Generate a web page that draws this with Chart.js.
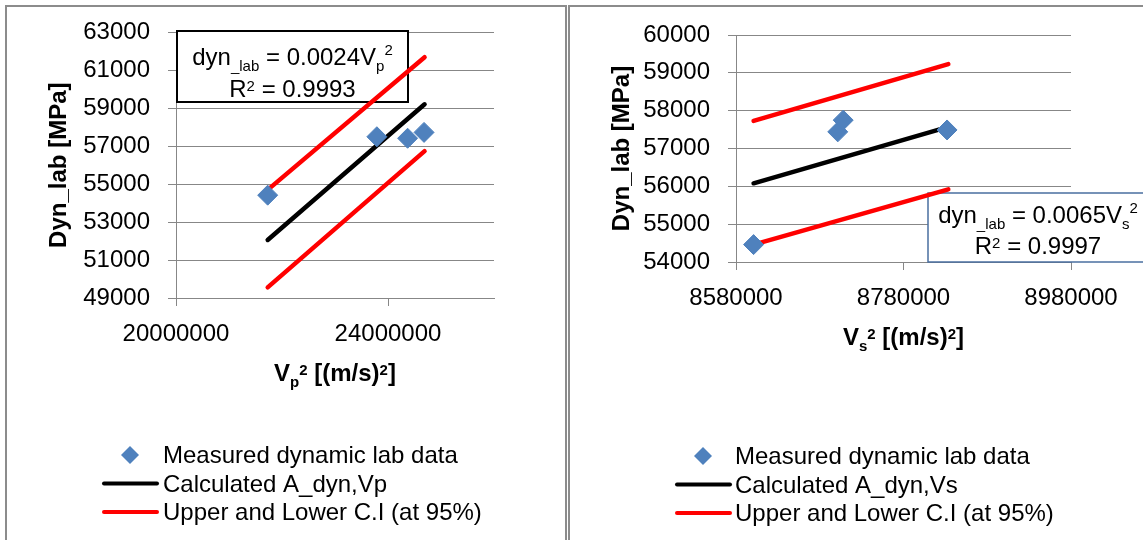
<!DOCTYPE html>
<html>
<head>
<meta charset="utf-8">
<script src="https://cdn.jsdelivr.net/npm/chart.js@4/dist/chart.umd.min.js"></script>
<style>
  html, body { margin: 0; padding: 0; background: #fff; width: 1143px; height: 540px; overflow: hidden; }
  .panel { position: absolute; top: 5px; height: 600px; border: 2px solid #8c8c8c; box-sizing: border-box; }
  canvas { position: absolute; top: 0; }
</style>
</head>
<body>
<div class="panel" style="left:5px;width:562px"></div>
<div class="panel" style="left:568px;width:600px"></div>
<canvas id="leftChart" width="567" height="540" style="left:0"></canvas>
<canvas id="rightChart" width="576" height="540" style="left:567px"></canvas>
<script>
const FONT = '"Liberation Sans", Arial, sans-serif';
const GRID = '#878787';
const BLUE = '#4F81BD';

// Vp chart
const leftMeasuredX = [21730000, 23790000, 24370000, 24680000];
const leftMeasuredY = [54420, 57500, 57420, 57730];
const leftLineX = [21730000, 24690000];
const leftCalcY = [52060, 59210];
const leftUpperY = [54700, 61690];
const leftLowerY = [49560, 56740];
const leftXTicks = [20000000, 24000000];
const leftYTicks = [49000, 51000, 53000, 55000, 57000, 59000, 61000, 63000];

// Vs chart
const rightMeasuredX = [8601000, 8701500, 8708000, 8832000];
const rightMeasuredY = [54460, 57440, 57750, 57490];
const rightLineX = [8601000, 8833500];
const rightCalcY = [56080, 57570];
const rightUpperY = [57730, 59230];
const rightLowerY = [54460, 55920];
const rightXTicks = [8580000, 8780000, 8980000];
const rightYTicks = [54000, 55000, 56000, 57000, 58000, 59000, 60000];

const seriesLabels = ['Measured dynamic lab data', 'Calculated A_dyn,Vp', 'Upper and Lower C.I (at 95%)'];
const seriesLabelsVs = ['Measured dynamic lab data', 'Calculated A_dyn,Vs', 'Upper and Lower C.I (at 95%)'];

function pts(xs, ys) {
  return xs.map((x, i) => ({ x: x, y: ys[i] }));
}

// parts: sub = subscript, sup = raised superscript, sq = "squared" sign level with cap height
function drawRich(ctx, parts, cx, y, size, weight) {
  const small = p => p.sub || p.sup || p.sq;
  const fontFor = p => `${weight} ${small(p) ? Math.round(size * 0.62) : size}px ${FONT}`;
  let w = 0;
  parts.forEach(p => { ctx.font = fontFor(p); w += ctx.measureText(p.t).width; });
  let x = cx - w / 2;
  ctx.textAlign = 'left';
  ctx.textBaseline = 'alphabetic';
  ctx.fillStyle = '#000';
  parts.forEach(p => {
    ctx.font = fontFor(p);
    let dy = 0;
    if (p.sub) dy = size * 0.25;
    if (p.sup) dy = -size * 0.4;
    if (p.sq) dy = -size * 0.27;
    ctx.fillText(p.t, x, y + dy);
    x += ctx.measureText(p.t).width;
  });
}

function makeDatasets(mx, my, lx, calc, up, low, labels) {
  const line = (data, color, label) => ({
    label: label,
    data: data,
    showLine: true,
    borderColor: color,
    backgroundColor: color,
    borderWidth: 4.5,
    borderCapStyle: 'round',
    pointRadius: 0
  });
  return [
    {
      label: labels[0],
      data: pts(mx, my),
      pointStyle: 'rectRot',
      pointRadius: 10,
      backgroundColor: BLUE,
      borderColor: BLUE,
      borderWidth: 1
    },
    line(pts(lx, calc), '#000000', labels[1]),
    line(pts(lx, up), '#ff0000', labels[2]),
    line(pts(lx, low), '#ff0000', labels[2])
  ];
}

function makeOptions(cfg) {
  return {
    responsive: false,
    animation: false,
    layout: { padding: cfg.padding },
    plugins: { legend: { display: false }, tooltip: { enabled: false } },
    scales: {
      x: {
        type: 'linear',
        min: cfg.xMin,
        max: cfg.xMax,
        afterBuildTicks: s => { s.ticks = cfg.xTicks.map(v => ({ value: v })); },
        afterFit: s => { s.height = 60; },
        grid: { drawOnChartArea: false, drawTicks: true, tickLength: 8, color: GRID },
        border: { color: GRID, width: 1 },
        ticks: { color: '#000', font: { family: FONT, size: 24 }, padding: 14, maxRotation: 0, autoSkip: false, callback: v => String(v) }
      },
      y: {
        type: 'linear',
        min: cfg.yTicks[0],
        max: cfg.yTicks[cfg.yTicks.length - 1],
        afterBuildTicks: s => { s.ticks = cfg.yTicks.map(v => ({ value: v })); },
        afterFit: s => { s.width = cfg.yWidth; },
        grid: { drawTicks: true, tickLength: 8, color: GRID },
        border: { color: GRID, width: 1 },
        ticks: { color: '#000', font: { family: FONT, size: 24 }, padding: 18, autoSkip: false, callback: v => String(v) }
      }
    }
  };
}

// equation box, axis titles and legend
function decorPlugin(cfg) {
  return {
    id: 'decor',
    beforeDatasetsDraw(chart) {
      const ctx = chart.ctx;
      const b = cfg.box;
      ctx.save();
      ctx.fillStyle = '#fff';
      ctx.fillRect(b.x, b.y, b.w, b.h);
      ctx.strokeStyle = b.color;
      ctx.lineWidth = b.lw;
      ctx.strokeRect(b.x, b.y, b.w, b.h);
      drawRich(ctx, cfg.eq1, b.x + b.w / 2, b.y1, 24, 'normal');
      drawRich(ctx, cfg.eq2, b.x + b.w / 2, b.y2, 24, 'normal');
      ctx.restore();
    },
    afterDraw(chart) {
      const ctx = chart.ctx;
      const a = chart.chartArea;
      ctx.save();
      drawRich(ctx, cfg.xTitle, (a.left + a.right) / 2, cfg.xTitleY, 24, 'bold');
      ctx.translate(cfg.yTitleX, (a.top + a.bottom) / 2);
      ctx.rotate(-Math.PI / 2);
      drawRich(ctx, [{ t: 'Dyn_lab [MPa]' }], 0, 0, 24, 'bold');
      ctx.restore();

      // legend
      const L = cfg.legend;
      const ds = chart.data.datasets;
      ctx.save();
      ctx.fillStyle = ds[0].backgroundColor;
      ctx.beginPath();
      ctx.moveTo(L.mx, L.y0 - 9);
      ctx.lineTo(L.mx + 9, L.y0);
      ctx.lineTo(L.mx, L.y0 + 9);
      ctx.lineTo(L.mx - 9, L.y0);
      ctx.closePath();
      ctx.fill();
      ctx.lineCap = 'round';
      ctx.lineWidth = 4;
      [1, 2].forEach((k, i) => {
        const yy = L.y0 + 28.5 * (i + 1);
        ctx.strokeStyle = ds[k].borderColor;
        ctx.beginPath();
        ctx.moveTo(L.lx0, yy);
        ctx.lineTo(L.lx1, yy);
        ctx.stroke();
      });
      ctx.font = `24px ${FONT}`;
      ctx.fillStyle = '#000';
      ctx.textAlign = 'left';
      ctx.textBaseline = 'alphabetic';
      [0, 1, 2].forEach(k => {
        ctx.fillText(ds[k].label, L.tx, L.y0 + 8 + 28.5 * k);
      });
      ctx.restore();
    }
  };
}

new Chart(document.getElementById('leftChart'), {
  type: 'scatter',
  data: { datasets: makeDatasets(leftMeasuredX, leftMeasuredY, leftLineX, leftCalcY, leftUpperY, leftLowerY, seriesLabels) },
  options: makeOptions({
    padding: { left: 0, top: 29, right: 73, bottom: 182 },
    xMin: 20000000, xMax: 26000000, xTicks: leftXTicks, yTicks: leftYTicks, yWidth: 176
  }),
  plugins: [decorPlugin({
    box: { x: 177, y: 31, w: 231, h: 71, color: '#000', lw: 2, y1: 65, y2: 97 },
    eq1: [{ t: 'dyn' }, { t: '_lab', sub: true }, { t: ' = 0.0024V' }, { t: 'p', sub: true }, { t: '2', sup: true }],
    eq2: [{ t: 'R' }, { t: '2', sq: true }, { t: ' = 0.9993' }],
    xTitle: [{ t: 'V' }, { t: 'p', sub: true }, { t: '2', sq: true }, { t: ' [(m/s)' }, { t: '2', sq: true }, { t: ']' }],
    xTitleY: 381,
    yTitleX: 66,
    legend: { mx: 130, y0: 455, lx0: 104, lx1: 157, tx: 163 }
  })]
});

new Chart(document.getElementById('rightChart'), {
  type: 'scatter',
  data: { datasets: makeDatasets(rightMeasuredX, rightMeasuredY, rightLineX, rightCalcY, rightUpperY, rightLowerY, seriesLabelsVs) },
  options: makeOptions({
    padding: { left: 0, top: 35, right: 72, bottom: 218 },
    xMin: 8580000, xMax: 8980000, xTicks: rightXTicks, yTicks: rightYTicks, yWidth: 169
  }),
  plugins: [decorPlugin({
    box: { x: 361, y: 193, w: 220, h: 69, color: '#4a6fa0', lw: 1.5, y1: 223, y2: 254 },
    eq1: [{ t: 'dyn' }, { t: '_lab', sub: true }, { t: ' = 0.0065V' }, { t: 's', sub: true }, { t: '2', sup: true }],
    eq2: [{ t: 'R' }, { t: '2', sq: true }, { t: ' = 0.9997' }],
    xTitle: [{ t: 'V' }, { t: 's', sub: true }, { t: '2', sq: true }, { t: ' [(m/s)' }, { t: '2', sq: true }, { t: ']' }],
    xTitleY: 345,
    yTitleX: 62,
    legend: { mx: 136, y0: 456, lx0: 110, lx1: 163, tx: 168 }
  })]
});
</script>
</body>
</html>
